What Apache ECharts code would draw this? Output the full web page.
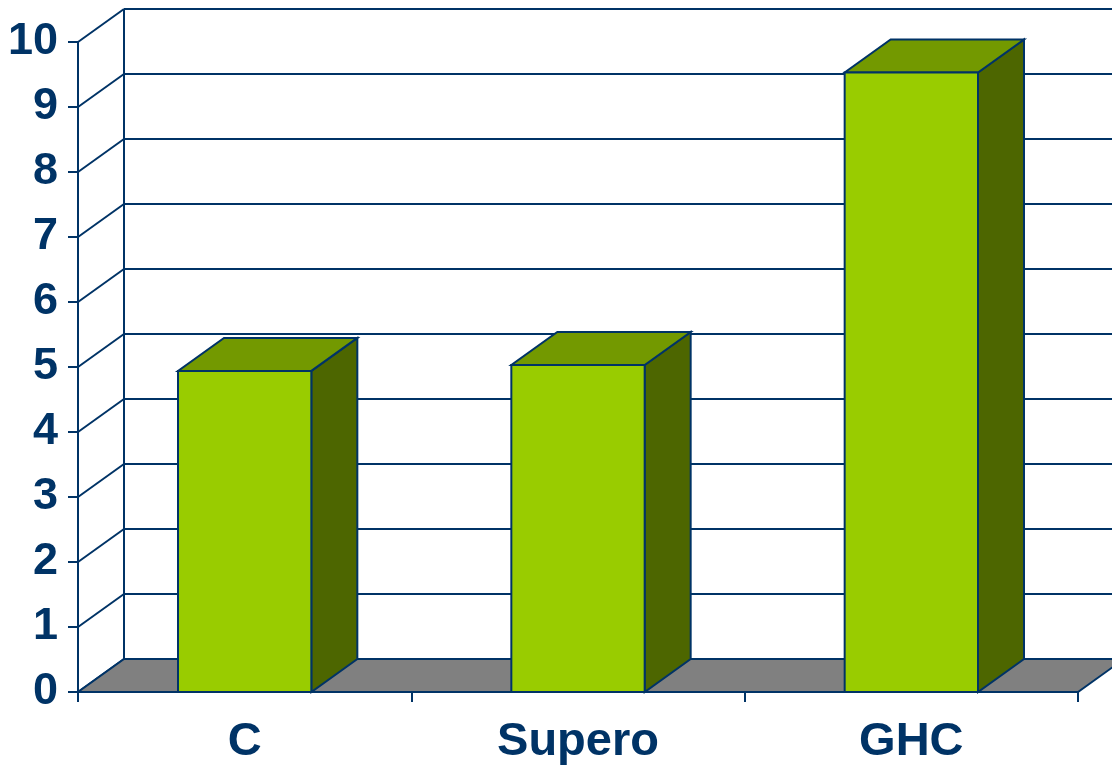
<!DOCTYPE html>
<html>
<head>
<meta charset="utf-8">
<script src="https://cdn.jsdelivr.net/npm/echarts@6/dist/echarts.min.js"></script>
<style>
  html, body { margin: 0; padding: 0; background: #fff; }
  #chart { width: 1112px; height: 772px; }
</style>
</head>
<body>
<div id="chart"></div>
<script>
const categories = ['C', 'Supero', 'GHC']
const values = [4.94, 5.03, 9.53]
const yTicks = [0, 1, 2, 3, 4, 5, 6, 7, 8, 9, 10]

const NAVY = '#003366'
// depth offset of the 3d box
const DX = 46
const DY = -33

const chart = echarts.init(document.getElementById('chart'))

function renderWall(params, api) {
  const cs = params.coordSys
  const v = api.value(0)
  const y = api.coord([0, v])[1]
  const x0 = cs.x
  const x1 = cs.x + cs.width
  const lineStyle = { stroke: NAVY, lineWidth: 2, fill: null }
  const children = [
    { type: 'line', shape: { x1: x0, y1: y, x2: x0 + DX, y2: y + DY }, style: lineStyle },
    { type: 'line', shape: { x1: x0 + DX, y1: y + DY, x2: x1 + DX, y2: y + DY }, style: lineStyle }
  ]
  if (v === 0) {
    // floor and back-left edge
    children.push({
      type: 'polygon',
      shape: { points: [[x0, y], [x1, y], [x1 + DX, y + DY], [x0 + DX, y + DY]] },
      style: { fill: '#808080', stroke: NAVY, lineWidth: 2 }
    })
    children.push({
      type: 'line',
      shape: { x1: x0 + DX, y1: y + DY, x2: x0 + DX, y2: cs.y + DY },
      style: lineStyle
    })
  }
  return { type: 'group', children }
}

function renderBar(params, api) {
  const idx = api.value(0)
  const top = api.coord([idx, api.value(1)])
  const base = api.coord([idx, 0])
  const w = api.size([1, 0])[0] * 0.4
  const xl = top[0] - w / 2
  const xr = top[0] + w / 2
  const yt = top[1]
  const yb = base[1]
  const stroke = { stroke: NAVY, lineWidth: 2, lineJoin: 'miter' }
  return {
    type: 'group',
    children: [
      {
        type: 'polygon',
        shape: { points: [[xr, yt], [xr + DX, yt + DY], [xr + DX, yb + DY], [xr, yb]] },
        style: Object.assign({ fill: '#4D6600' }, stroke)
      },
      {
        type: 'polygon',
        shape: { points: [[xl, yt], [xr, yt], [xr + DX, yt + DY], [xl + DX, yt + DY]] },
        style: Object.assign({ fill: '#739900' }, stroke)
      },
      {
        type: 'rect',
        shape: { x: xl, y: yt, width: w, height: yb - yt },
        style: Object.assign({ fill: '#99CC00' }, stroke)
      }
    ]
  }
}

const option = {
  animation: false,
  grid: { left: 78, right: 34, top: 42, bottom: 80, containLabel: false },
  xAxis: {
    type: 'category',
    data: categories,
    axisLine: { lineStyle: { color: NAVY, width: 2 } },
    axisTick: { show: true, length: 10, lineStyle: { color: NAVY, width: 2 } },
    axisLabel: {
      margin: 27,
      color: NAVY,
      fontSize: 47,
      fontWeight: 'bold',
      fontFamily: 'Liberation Sans, Arial, sans-serif'
    },
    splitLine: { show: false }
  },
  yAxis: {
    type: 'value',
    min: 0,
    max: 10,
    interval: 1,
    axisLine: { show: true, lineStyle: { color: NAVY, width: 2 } },
    axisTick: { show: true, length: 10, lineStyle: { color: NAVY, width: 2 } },
    axisLabel: {
      margin: 20,
      color: NAVY,
      fontSize: 45,
      fontWeight: 'bold',
      fontFamily: 'Liberation Sans, Arial, sans-serif'
    },
    splitLine: { show: false }
  },
  series: [
    {
      type: 'custom',
      name: 'wall',
      clip: false,
      silent: true,
      z: 1,
      renderItem: renderWall,
      data: yTicks.map(v => [v])
    },
    {
      type: 'custom',
      name: 'bars',
      clip: false,
      z: 3,
      renderItem: renderBar,
      encode: { x: 0, y: 1 },
      data: values.map((v, i) => [i, v])
    }
  ]
}

chart.setOption(option)
</script>
</body>
</html>
